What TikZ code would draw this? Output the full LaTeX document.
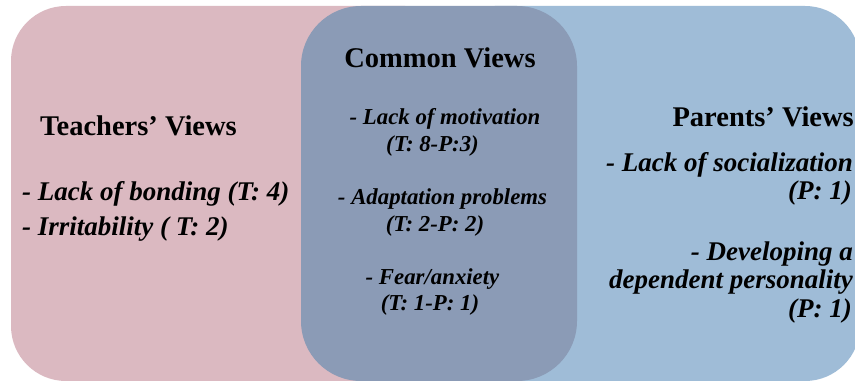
\documentclass[tikz,border=0pt]{standalone}
\usepackage{fontspec}
\setmainfont{Liberation Serif}
\definecolor{pinkbox}{HTML}{DBB9C1}
\definecolor{darkbox}{HTML}{8B9BB6}
\definecolor{lightbox}{HTML}{9FBCD7}
\begin{document}
\begin{tikzpicture}[x=1pt,y=-1pt,
  head/.style={inner sep=0pt, font=\fontsize{28.5}{30}\selectfont\bfseries},
  item/.style={inner sep=0pt, font=\fontsize{27}{29}\selectfont\bfseries\itshape},
  citem/.style={inner sep=0pt, font=\fontsize{22.8}{25}\selectfont\bfseries\itshape}]
\useasboundingbox (0,0) rectangle (855,382);
\clip (0,0) rectangle (855,382);
\fill[white] (0,0) rectangle (855,382);
% regions
\fill[pinkbox, rounded corners=55pt] (11,6) rectangle (460,381);
\fill[lightbox, rounded corners=55pt] (440,6) rectangle (860,381);
\fill[darkbox, rounded corners=60pt] (301,6) rectangle (577,381);
% teachers
\node[head, anchor=base west] (th) at (40,136) {Teachers’ Views};
\node[item, anchor=base west] (t1) at (22,201) {- Lack of bonding (T: 4)};
\node[item, anchor=base west] (t2) at (22,236) {- Irritability ( T: 2)};
% common
\node[head, anchor=base] (ch) at (440,68) {Common Views};
\node[citem, anchor=base] (c1a) at (445,125) {- Lack of motivation};
\node[citem, anchor=base] (c1b) at (432.5,152) {(T: 8-P:3)};
\node[citem, anchor=base] (c2a) at (442.5,205) {- Adaptation problems};
\node[citem, anchor=base] (c2b) at (435,232) {(T: 2-P: 2)};
\node[citem, anchor=base] (c3a) at (432.5,285) {- Fear/anxiety};
\node[citem, anchor=base] (c3b) at (430,311) {(T: 1-P: 1)};
% parents
\node[head, anchor=base east] (ph) at (854,127) {Parents’ Views};
\node[item, anchor=base east] (p1a) at (853,172) {- Lack of socialization};
\node[item, anchor=base east] (p1b) at (852,200) {(P: 1)};
\node[item, anchor=base east] (p2a) at (853,261) {- Developing a};
\node[item, anchor=base east] (p2b) at (853,289) {dependent personality};
\node[item, anchor=base east] (p2c) at (852,318) {(P: 1)};
\end{tikzpicture}
\end{document}
